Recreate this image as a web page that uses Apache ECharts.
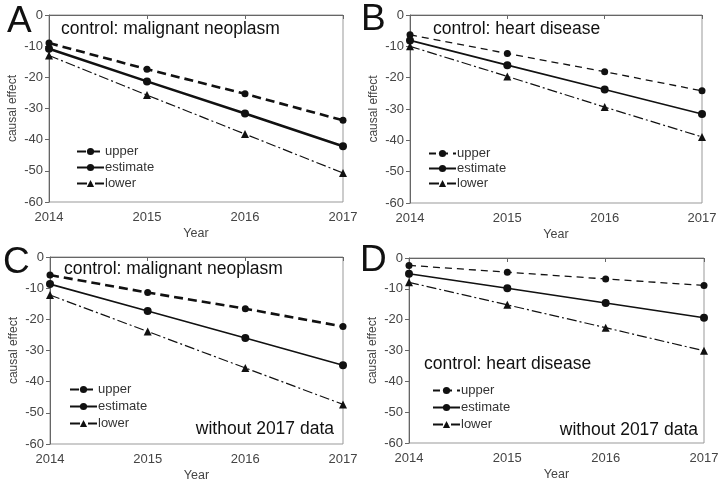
<!DOCTYPE html>
<html>
<head>
<meta charset="utf-8">
<script src="https://cdn.jsdelivr.net/npm/echarts@6/dist/echarts.min.js"></script>
<style>
  html, body { margin: 0; padding: 0; background: #fff; }
  #chart { width: 722px; height: 486px; }
</style>
</head>
<body>
<div id="chart"></div>
<script>
// Four panels of causal effect by year: upper / estimate / lower bounds.
const years = [2014, 2015, 2016, 2017];

const aUpper = [-9, -17.4, -25.3, -33.8];
const aEstimate = [-10.8, -21.3, -31.6, -42.1];
const aLower = [-13, -25.7, -38.2, -50.7];

const bUpper = [-6.3, -12.3, -18.1, -24.2];
const bEstimate = [-8.1, -16, -23.8, -31.6];
const bLower = [-10, -19.6, -29.4, -38.9];

const cUpper = [-5.8, -11.4, -16.6, -22.3];
const cEstimate = [-8.7, -17.3, -26, -34.7];
const cLower = [-12.2, -23.9, -35.6, -47.3];

const dUpper = [-2.4, -4.6, -6.8, -8.9];
const dEstimate = [-5.1, -9.8, -14.6, -19.4];
const dLower = [-7.9, -15.2, -22.6, -30.1];

const FONT = '"Liberation Sans", Arial, sans-serif';
const INK = '#111';

const panels = [
  { key: 'A', up: aUpper, est: aEstimate, low: aLower, thickUp: true, thickEst: true,
    grid: { left: 49, top: 15, width: 294, height: 187 }, legend: { left: 76, top: 145, gap: 2 } },
  { key: 'B', up: bUpper, est: bEstimate, low: bLower, thickUp: false, thickEst: false,
    grid: { left: 410, top: 15, width: 292, height: 188 }, legend: { left: 428, top: 147, gap: 1 } },
  { key: 'C', up: cUpper, est: cEstimate, low: cLower, thickUp: true, thickEst: false,
    grid: { left: 50, top: 257, width: 293, height: 187 }, legend: { left: 69, top: 383, gap: 3 } },
  { key: 'D', up: dUpper, est: dEstimate, low: dLower, thickUp: false, thickEst: false,
    grid: { left: 409, top: 258, width: 295, height: 185 }, legend: { left: 432, top: 384, gap: 3 } },
];

function pairs(vals) {
  return years.map((y, i) => [y, vals[i]]);
}

const grids = [], xAxes = [], yAxes = [], series = [], legends = [];

panels.forEach((p, i) => {
  grids.push(Object.assign({ show: true, borderColor: '#999', borderWidth: 1 }, p.grid));
  xAxes.push({
    gridIndex: i, type: 'value', min: 2014, max: 2017, interval: 1,
    name: 'Year', nameLocation: 'middle', nameGap: 25,
    nameTextStyle: { fontFamily: FONT, fontSize: 12.5, color: '#444' },
    axisLine: { lineStyle: { color: '#666', width: 1 } },
    axisTick: { length: 4, lineStyle: { color: '#666' } },
    axisLabel: { fontFamily: FONT, fontSize: 13, color: '#444', margin: 9, formatter: (v) => String(v) },
    splitLine: { show: false },
  });
  yAxes.push({
    gridIndex: i, type: 'value', min: -60, max: 0, interval: 10,
    name: 'causal effect', nameLocation: 'middle', nameGap: 30,
    nameTextStyle: { fontFamily: FONT, fontSize: 12, color: '#444' },
    axisLine: { show: true, lineStyle: { color: '#666', width: 1 } },
    axisTick: { show: true, length: 4, lineStyle: { color: '#666' } },
    axisLabel: { fontFamily: FONT, fontSize: 13, color: '#444', margin: 6 },
    splitLine: { show: false },
  });

  series.push({
    name: 'upper' + p.key, type: 'line', xAxisIndex: i, yAxisIndex: i,
    data: pairs(p.up), symbol: 'circle', symbolSize: 7,
    itemStyle: { color: INK },
    lineStyle: { color: INK, width: p.thickUp ? 2.6 : 1.3, type: p.thickUp ? [9, 5] : [7, 5] },
  });
  series.push({
    name: 'estimate' + p.key, type: 'line', xAxisIndex: i, yAxisIndex: i,
    data: pairs(p.est), symbol: 'circle', symbolSize: 8,
    itemStyle: { color: INK },
    lineStyle: { color: INK, width: p.thickEst ? 2.6 : 1.6, type: 'solid' },
  });
  series.push({
    name: 'lower' + p.key, type: 'line', xAxisIndex: i, yAxisIndex: i,
    data: pairs(p.low), symbol: 'triangle', symbolSize: 8,
    itemStyle: { color: INK },
    lineStyle: { color: INK, width: 1.2, type: [10, 3, 2, 3] },
  });

  legends.push({
    orient: 'vertical', left: p.legend.left, top: p.legend.top,
    itemWidth: 27, itemHeight: 9, itemGap: p.legend.gap + 1, padding: 0, selectedMode: false,
    data: ['upper' + p.key, 'estimate' + p.key, 'lower' + p.key],
    formatter: (name) => name.slice(0, -1),
    textStyle: { fontFamily: FONT, fontSize: 13, color: '#333', padding: [0, 0, 0, -4] },
  });
});

function label(text, x, y, size, align) {
  return {
    type: 'text', x: x, y: y, z: 10,
    style: { text: text, font: size + 'px ' + FONT, fill: '#111', textAlign: align || 'left', textVerticalAlign: 'middle' },
  };
}

const texts = [
  label('A', 7, 22, 37), label('B', 361, 20, 37),
  label('C', 3, 263, 37), label('D', 360, 261, 37),
  label('control: malignant neoplasm', 61, 29, 17.5),
  label('control: heart disease', 433, 29, 17.5),
  label('control: malignant neoplasm', 64, 269, 17.5),
  label('without 2017 data', 334, 429, 17.5, 'right'),
  label('control: heart disease', 424, 364, 17.5),
  label('without 2017 data', 698, 430, 17.5, 'right'),
];

const chart = echarts.init(document.getElementById('chart'), null, { renderer: 'canvas' });
chart.setOption({
  animation: false,
  backgroundColor: '#fff',
  grid: grids,
  xAxis: xAxes,
  yAxis: yAxes,
  legend: legends,
  series: series,
  graphic: texts,
});
</script>
</body>
</html>
